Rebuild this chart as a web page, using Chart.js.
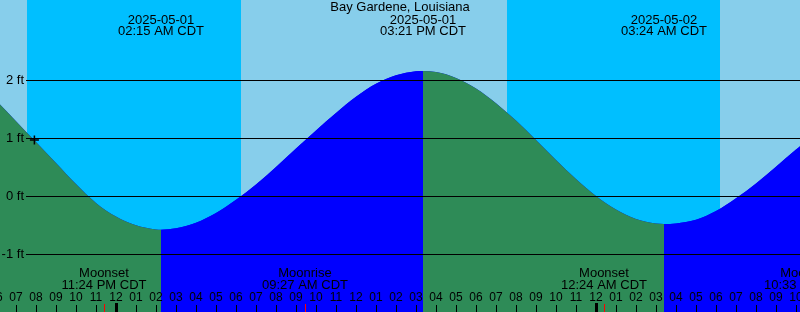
<!DOCTYPE html>
<html>
<head>
<meta charset="utf-8">
<title>Bay Gardene, Louisiana</title>
<script src="https://cdn.jsdelivr.net/npm/chart.js"></script>
<style>
  html, body { margin: 0; padding: 0; background: #87ceeb; }
  canvas { display: block; }
</style>
</head>
<body>
<canvas id="tideChart" width="800" height="312"></canvas>
<script>
// all times are hours since 2025-05-01 00:00 CDT, heights in feet
const tideHours = [-6, -5, -4, -3, -2, -1, 0, 1, 2, 2.25,
    3, 4, 5, 6, 7, 8, 9, 10, 11, 12, 13, 14, 15, 15.35,
    16, 17, 18, 19, 20, 21, 22, 23, 24, 25, 26, 27, 27.4,
    28, 29, 30, 31, 32, 33, 34, 35];
const tideFeet = [1.65, 1.29, 0.93, 0.57, 0.205, -0.12, -0.355, -0.505, -0.576, -0.58,
    -0.558, -0.461, -0.293, -0.065, 0.20, 0.50, 0.82, 1.13, 1.43, 1.71, 1.935, 2.08, 2.15, 2.155,
    2.136, 2.035, 1.852, 1.60, 1.30, 0.965, 0.622, 0.293, 0.0, -0.234, -0.397, -0.476, -0.483,
    -0.474, -0.41, -0.26, -0.04, 0.215, 0.505, 0.80, 1.09];

// tide extremes shown along the top
const extremeHours = [2.25, 15.35, 27.4];
const extremeDates = ['2025-05-01', '2025-05-01', '2025-05-02'];
const extremeTimes = ['02:15 AM CDT', '03:21 PM CDT', '03:24 AM CDT'];

// moon events shown along the bottom
const moonHours = [-0.6, 9.45, 24.4, 34.55];
const moonNames = ['Moonset', 'Moonrise', 'Moonset', 'Moonrise'];
const moonTimes = ['11:24 PM CDT', '09:27 AM CDT', '12:24 AM CDT', '10:33 AM CDT'];

// night = sunset to sunrise
const nightStart = [-4.45, 19.55];
const nightEnd   = [6.25, 30.2];

const feetTicks = [-1, 0, 1, 2];
const markHour = [-4.08];
const markFeet = [0.966];

const xMin = -5.8, xMax = 34.2;
const yMin = -2, yMax = 3.3793;

const dayColor = '#87ceeb';
const nightColor = '#00bfff';
const fallColor = '#2e8b57';
const riseColor = '#0000ff';
const font = '"Liberation Sans", Arial, sans-serif';

const tidePoints = tideHours.map((t, i) => ({ x: t, y: tideFeet[i] }));

function hourText(h) {
    let hh = ((h % 24) + 24) % 24;
    hh = hh % 12 || 12;
    return String(hh).padStart(2, '0');
}

// sky bands behind the water
const skyPlugin = {
    id: 'sky',
    beforeDraw(chart) {
        const ctx = chart.ctx;
        const x = chart.scales.x;
        ctx.save();
        ctx.fillStyle = dayColor;
        ctx.fillRect(0, 0, chart.width, chart.height);
        ctx.fillStyle = nightColor;
        nightStart.forEach((s, i) => {
            const a = Math.round(x.getPixelForValue(s));
            const b = Math.round(x.getPixelForValue(nightEnd[i]));
            ctx.fillRect(a, 0, b - a, chart.height);
        });
        ctx.restore();
    }
};

// grid lines, labels and hour ticks on top
const overlayPlugin = {
    id: 'overlay',
    afterDatasetsDraw(chart) {
        const ctx = chart.ctx;
        const x = chart.scales.x;
        const y = chart.scales.y;
        ctx.save();

        ctx.strokeStyle = '#000';
        ctx.lineWidth = 1;
        ctx.fillStyle = '#000';
        ctx.font = '13px ' + font;
        ctx.textBaseline = 'middle';

        feetTicks.forEach(v => {
            const py = Math.round(y.getPixelForValue(v)) + 0.5;
            ctx.beginPath();
            ctx.moveTo(26, py);
            ctx.lineTo(chart.width, py);
            ctx.stroke();
            ctx.textAlign = 'right';
            ctx.fillText(v + ' ft', 24, py);
        });

        ctx.textAlign = 'center';
        ctx.fillText('Bay Gardene, Louisiana', 400, 7.5);

        extremeHours.forEach((t, i) => {
            const px = x.getPixelForValue(t);
            ctx.fillText(extremeDates[i], px, 20);
            ctx.fillText(extremeTimes[i], px, 31.5);
        });

        moonHours.forEach((t, i) => {
            const px = x.getPixelForValue(t);
            ctx.fillText(moonNames[i], px, 273.5);
            ctx.fillText(moonTimes[i], px, 285);
        });

        // hour ticks
        ctx.font = '12px ' + font;
        for (let h = Math.floor(xMin); h <= Math.ceil(xMax); h++) {
            const px = Math.round(x.getPixelForValue(h));
            ctx.fillText(hourText(h), px, 297.5);
            if (h % 24 === 0) {
                ctx.fillRect(px - 1, 303, 3, 9);
            } else {
                ctx.fillRect(px, 305, 1, 7);
            }
        }
        ctx.fillStyle = '#ff0000';
        moonHours.forEach(t => {
            const px = Math.round(x.getPixelForValue(t));
            ctx.fillRect(px, 304, 1, 8);
        });

        ctx.restore();
    }
};

new Chart(document.getElementById('tideChart'), {
    type: 'line',
    data: {
        datasets: [
            {
                // whole curve in flood colour underneath
                data: tidePoints,
                backgroundColor: riseColor,
                borderWidth: 0,
                pointRadius: 0,
                fill: 'start',
                cubicInterpolationMode: 'monotone',
                order: 2
            },
            {
                // ebb (falling) parts in green on top
                data: tidePoints,
                backgroundColor: riseColor,
                borderWidth: 0,
                pointRadius: 0,
                fill: 'start',
                cubicInterpolationMode: 'monotone',
                segment: {
                    backgroundColor: c => c.p1.parsed.y < c.p0.parsed.y ? fallColor : riseColor
                },
                order: 1
            },
            {
                type: 'scatter',
                data: markHour.map((t, i) => ({ x: t, y: markFeet[i] })),
                pointStyle: 'cross',
                pointRadius: 4.5,
                borderColor: '#000',
                borderWidth: 1.5,
                order: 0
            }
        ]
    },
    options: {
        responsive: false,
        animation: false,
        layout: { padding: 0, autoPadding: false },
        plugins: {
            legend: { display: false },
            tooltip: { enabled: false }
        },
        scales: {
            x: { type: 'linear', min: xMin, max: xMax, display: false },
            y: { min: yMin, max: yMax, display: false }
        }
    },
    plugins: [skyPlugin, overlayPlugin]
});
</script>
</body>
</html>
